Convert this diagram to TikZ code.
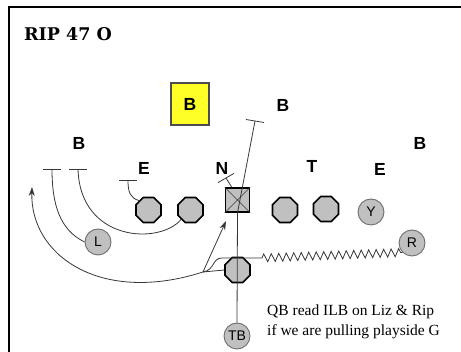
\documentclass[tikz,border=0pt]{standalone}
\usepackage{fontspec}
\setmainfont{Liberation Serif}
\newfontfamily\labelfont{Liberation Sans}
\newfontfamily\titlefont{DejaVu Serif}
\usetikzlibrary{shapes.geometric, arrows.meta, decorations.pathmorphing}
\definecolor{cFill}{RGB}{192,192,192}
\definecolor{cRing}{RGB}{110,110,110}
\definecolor{cRoute}{RGB}{55,55,55}
\definecolor{cBox}{RGB}{255,255,40}

\begin{document}
\begin{tikzpicture}[x=1pt, y=-1pt,
    lineman/.style={regular polygon, regular polygon sides=8, draw=black, line width=1.6pt, fill=cFill, minimum size=27pt, inner sep=0pt},
    skill/.style={circle, draw=cRing, line width=0.9pt, fill=cFill, minimum size=26pt, inner sep=0pt, font=\labelfont\fontsize{14}{14}\selectfont},
    defender/.style={font=\labelfont\bfseries\fontsize{17.5}{17.5}\selectfont},
    route/.style={draw=cRoute, line width=0.8pt}]
    \useasboundingbox (0,0) rectangle (461,352);

    % Frame and title
    \draw[line width=2pt] (8.5,352) -- (8.5,7) -- (461,7);
    \node[anchor=base west, inner sep=0pt, font=\titlefont\bfseries\fontsize{17.5}{17.5}\selectfont] (title) at (24,41) {RIP 47 O};

    % Defense
    \node[draw=black!70, line width=1.2pt, fill=cBox, minimum width=38pt, minimum height=42pt, defender] (bBox) at (190,104) {B};
    \node[defender] (bTop) at (283,105) {B};
    \node[defender] (bLeft) at (79,143) {B};
    \node[defender] (bRight) at (420,143) {B};
    \node[defender] (eLeft) at (144,168) {E};
    \node[defender] (nose) at (222,168) {N};
    \node[defender] (tackle) at (312,166) {T};
    \node[defender] (eRight) at (380,169) {E};

    % Offensive line
    \node[lineman] (ltk) at (148.5,210) {};
    \node[lineman] (lgd) at (190.5,210) {};
    \node[draw=black, line width=1.6pt, fill=cFill, minimum size=24pt, inner sep=0pt] (ctr) at (237.5,200) {};
    \draw[cRoute, line width=0.5pt] (ctr.north west) -- (ctr.south east) (ctr.north east) -- (ctr.south west);
    \node[lineman] (rgd) at (285,210) {};
    \node[lineman] (rtk) at (326,209) {};
    \node[skill] (yend) at (371,212) {Y};

    % Backs
    \node[skill] (lwr) at (98,242) {L};
    \node[skill] (rwr) at (412,243) {R};
    \node[lineman] (qb) at (237.5,270) {};
    \node[skill] (tb) at (237,336) {TB};

    % Blocks
    \coordinate (blkL) at (52,169);
    \coordinate (blkLG) at (78,169);
    \coordinate (blkLT) at (128,180);
    \coordinate (blkN) at (226,178);
    \coordinate (blkC) at (255,121);
    \draw[route] (lwr.west) .. controls (60,230) and (52,205) .. (blkL);
    \draw[route] (blkL) ++(-9,0) -- ++(18,0);
    \draw[route] (lgd.south west) .. controls (160,245) and (80,242) .. (blkLG);
    \draw[route] (blkLG) ++(-9,0) -- ++(18,0);
    \draw[route] (ltk.north west) .. controls (130,198) and (128,192) .. (blkLT);
    \draw[route] (blkLT) ++(-9,0) -- ++(18,0);
    \draw[route] ([xshift=7pt]ctr.north west) -- (blkN);
    \draw[route] (blkN) ++(-8,4.6) -- ++(16,-9.2);
    \draw[route] (ctr.south) -- (blkC);
    \draw[route] (blkC) ++(-9,-1.5) -- ++(18,3);
    \draw[route] (tb.north) -- (ctr.south);

    % Mesh, pitch and motion
    \coordinate (mesh) at (203,272);
    \coordinate (arrUp) at (226,221);
    \coordinate (arrLeft) at (32,187);
    \coordinate (motion) at (262,258);
    \draw[route] (qb.west) -- (mesh);
    \draw[route, -{Stealth[length=9pt, width=6pt]}] (mesh) -- (arrUp);
    \draw[route, -{Stealth[length=9pt, width=6pt]}] (mesh) .. controls (100,305) and (30,255) .. (arrLeft);
    \draw[route] (mesh) .. controls (215,270) and (212,258) .. (222,258) -- (motion);
    \draw[route, decorate, decoration={zigzag, segment length=7.5pt, amplitude=4pt}] (motion) -- (rwr.south west);

    % Coaching note
    \node[anchor=north west, inner sep=0pt, align=left, font=\fontsize{15.5}{19.5}\selectfont] (note) at (267,305) {QB read ILB on Liz \& Rip\\if we are pulling playside G};
\end{tikzpicture}
\end{document}
